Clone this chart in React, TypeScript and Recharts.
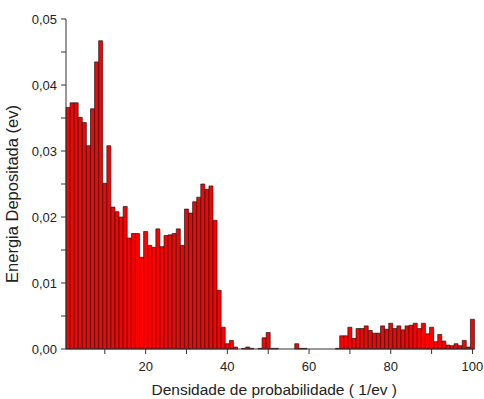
import { Bar, BarChart, XAxis, YAxis } from "recharts";

// energy deposited per bin, bins 1..100
const energy = [
  0.0366, 0.0373, 0.0373, 0.0351, 0.0343, 0.0308, 0.0364, 0.0435, 0.0467, 0.0251,
  0.0308, 0.0215, 0.0208, 0.02, 0.0216, 0.0168, 0.0175, 0.0175, 0.0139, 0.0178,
  0.0157, 0.0154, 0.0182, 0.0155, 0.0172, 0.0173, 0.0175, 0.0182, 0.0157, 0.0212,
  0.0206, 0.0223, 0.023, 0.025, 0.0242, 0.0247, 0.0195, 0.0089, 0.0033, 0.0008,
  0.0013, 0.0003, 0, 0.0001, 0.0003, 0.0001, 0, 0.0001, 0.0017, 0.0025,
  0.0001, 0.0001, 0, 0, 0, 0, 0.0008, 0.0001, 0.0001, 0,
  0, 0, 0, 0, 0, 0, 0.0001, 0.002, 0.002, 0.0033,
  0.0016, 0.0031, 0.0031, 0.0035, 0.0028, 0.0024, 0.0024, 0.0035, 0.003, 0.0039,
  0.0031, 0.0035, 0.0029, 0.0035, 0.0036, 0.0039, 0.0031, 0.0039, 0.0023, 0.0033,
  0.0011, 0.0022, 0.0012, 0.0006, 0.0005, 0.0008, 0.0005, 0.0013, 0.0003, 0.0045,
];

const xTicks = [10, 20, 30, 40, 50, 60, 70, 80, 90, 100];
const yTicks = [0, 0.005, 0.01, 0.015, 0.02, 0.025, 0.03, 0.035, 0.04, 0.045, 0.05];

const FONT = "'Liberation Sans', Arial, sans-serif";
const INK = "#222";

export default function App() {
  const data = energy.map((v, i) => ({ bin: i + 1, energy: v }));

  return (
    <div style={{ position: "absolute", left: 0, top: 0, background: "#fff" }}>
      <BarChart
        width={484}
        height={399}
        data={data}
        margin={{ top: 19, right: 9.5, bottom: 0, left: 8 }}
        barCategoryGap={0}
        barGap={0}
        style={{ fontFamily: FONT }}
      >
        <XAxis
          dataKey="bin"
          type="category"
          ticks={xTicks}
          interval={0}
          height={50}
          tickSize={5}
          tickMargin={8}
          tick={{ fill: INK, fontSize: 13 }}
          axisLine={{ stroke: "#333" }}
          tickLine={{ stroke: "#333" }}
          tickFormatter={(v) => (v % 20 === 0 ? String(v) : "")}
          label={{
            content: ({ viewBox }: any) => (
              <text
                x={viewBox.x + viewBox.width / 2 + 4}
                y={viewBox.y + 46}
                textAnchor="middle"
                fill={INK}
                fontSize={15.5}
                fontFamily={FONT}
              >
                Densidade de probabilidade ( 1/ev )
              </text>
            ),
          }}
        />
        <YAxis
          domain={[0, 0.05]}
          ticks={yTicks}
          interval={0}
          width={58}
          tickSize={5}
          tickMargin={4}
          tick={{ fill: INK, fontSize: 13 }}
          axisLine={{ stroke: "#333" }}
          tickLine={{ stroke: "#333" }}
          tickFormatter={(v) =>
            Math.round(v * 1000) % 10 === 0 ? v.toFixed(2).replace(".", ",") : ""
          }
          label={{
            content: ({ viewBox }: any) => {
              const cx = viewBox.x + 10;
              const cy = viewBox.y + viewBox.height / 2 + 10;
              return (
                <text
                  transform={`translate(${cx},${cy}) rotate(-90)`}
                  textAnchor="middle"
                  fill={INK}
                  fontSize={16.5}
                  fontFamily={FONT}
                >
                  Energia Depositada (ev)
                </text>
              );
            },
          }}
        />
        <Bar
          dataKey="energy"
          fill="#ff0000"
          stroke="#1a1a1a"
          strokeWidth={0.7}
          isAnimationActive={false}
        />
      </BarChart>
    </div>
  );
}
